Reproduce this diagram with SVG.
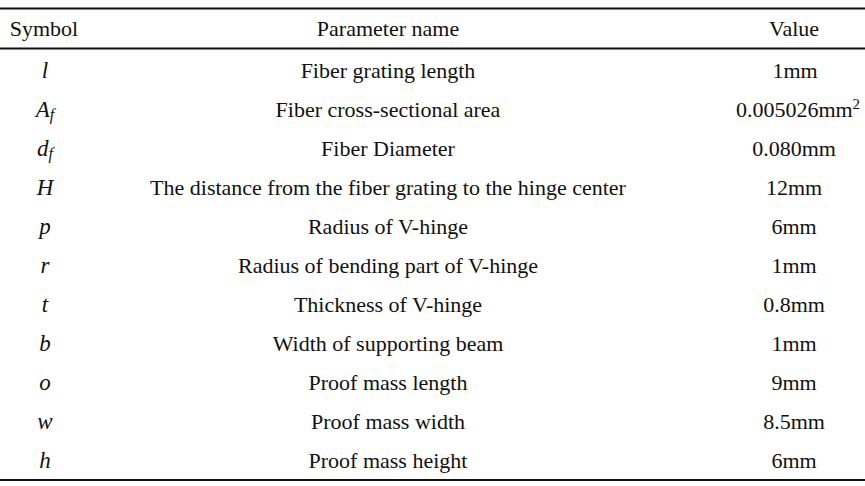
<svg xmlns="http://www.w3.org/2000/svg" width="865" height="486" viewBox="0 0 865 486">
<style>
text{font-family:"Liberation Serif","Times New Roman",serif;font-size:22px;fill:#111;text-anchor:middle}
.sym{font-style:italic;font-size:23px}
.sub{font-size:16px}
.sup{font-size:15px}
.rule{stroke:#111;stroke-width:1.8}
</style>
<rect width="865" height="486" fill="#fff"/>
<g id="rules">
<line class="rule" x1="0" y1="8.5" x2="865" y2="8.5"/>
<line class="rule" x1="0" y1="48.5" x2="865" y2="48.5"/>
<line class="rule" x1="0" y1="480" x2="865" y2="480"/>
</g>
<g id="header">
<text x="44" y="36">Symbol</text>
<text x="388" y="36">Parameter name</text>
<text x="794" y="36">Value</text>
</g>
<g id="row-l"><text class="sym" x="45" y="78">l</text><text x="388" y="78">Fiber grating length</text><text x="795" y="78">1mm</text></g>
<g id="row-Af"><text class="sym" x="45" y="117">A<tspan class="sub" dy="3">f</tspan></text><text x="798" y="117">0.005026mm<tspan class="sup" dy="-8">2</tspan></text><text x="388" y="117">Fiber cross-sectional area</text></g>
<g id="row-df"><text class="sym" x="45" y="156">d<tspan class="sub" dy="3">f</tspan></text><text x="388" y="156">Fiber Diameter</text><text x="794" y="156">0.080mm</text></g>
<g id="row-H"><text class="sym" x="45" y="195">H</text><text x="388" y="195">The distance from the fiber grating to the hinge center</text><text x="794" y="195">12mm</text></g>
<g id="row-p"><text class="sym" x="45" y="234">p</text><text x="388" y="234">Radius of V-hinge</text><text x="794" y="234">6mm</text></g>
<g id="row-r"><text class="sym" x="45" y="273">r</text><text x="388" y="273">Radius of bending part of V-hinge</text><text x="794" y="273">1mm</text></g>
<g id="row-t"><text class="sym" x="45" y="312">t</text><text x="388" y="312">Thickness of V-hinge</text><text x="794" y="312">0.8mm</text></g>
<g id="row-b"><text class="sym" x="45" y="351">b</text><text x="388" y="351">Width of supporting beam</text><text x="794" y="351">1mm</text></g>
<g id="row-o"><text class="sym" x="45" y="390">o</text><text x="388" y="390">Proof mass length</text><text x="794" y="390">9mm</text></g>
<g id="row-w"><text class="sym" x="45" y="429">w</text><text x="388" y="429">Proof mass width</text><text x="794" y="429">8.5mm</text></g>
<g id="row-h"><text class="sym" x="45" y="468">h</text><text x="388" y="468">Proof mass height</text><text x="794" y="468">6mm</text></g>
</svg>
